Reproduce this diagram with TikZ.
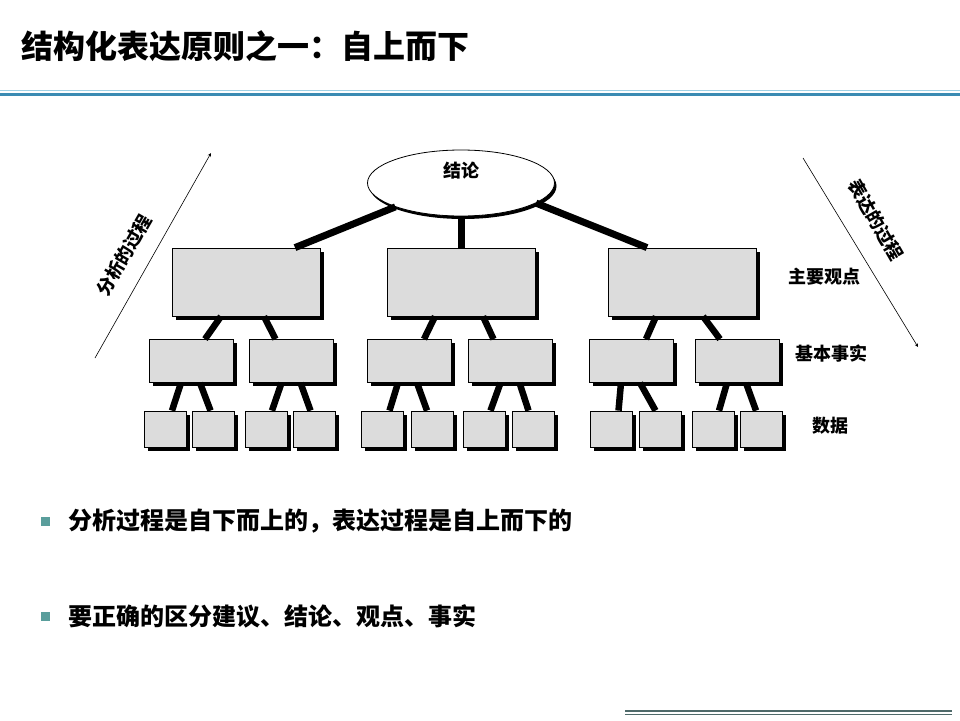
\documentclass[tikz,border=0pt]{standalone}
\usepackage{fontspec}
\setmainfont{Noto Sans CJK SC}
\usetikzlibrary{shapes.geometric,shadows}
\definecolor{boxgray}{HTML}{DCDCDC}
\definecolor{rulelight}{HTML}{9FD0E4}
\definecolor{ruleblue}{HTML}{3A8BB3}
\definecolor{bulletteal}{HTML}{5A9E9C}
\definecolor{footgray}{HTML}{4F6A6A}

\begin{document}
\begin{tikzpicture}[
    x=1pt,y=-1pt,
    box/.style={rectangle,draw=black,line width=0.8pt,fill=boxgray,inner sep=0pt,
      drop shadow={shadow xshift=3.5pt,shadow yshift=-3.5pt,fill=black,opacity=1}},
    mainbox/.style={box,minimum width=148pt,minimum height=68pt},
    factbox/.style={box,minimum width=84pt,minimum height=43pt},
    databox/.style={box,minimum width=42pt,minimum height=36pt},
    link/.style={line width=6.5pt},
    toplink/.style={line width=7pt},
    level/.style={font=\bfseries\fontsize{18}{21}\selectfont},
    bullet/.style={rectangle,fill=bulletteal,minimum size=9pt,inner sep=0pt},
    point/.style={anchor=west,inner sep=0pt,font=\bfseries\fontsize{24}{29}\selectfont},
    proc/.style={->,line width=0.6pt},
    >=stealth
  ]
  \useasboundingbox[fill=white] (0,0) rectangle (960,720);

  % Heading
  \node[anchor=west,inner sep=0pt,font=\bfseries\fontsize{32}{38}\selectfont] (title) at (21,46)
    {结构化表达原则之一：自上而下};
  \draw[rulelight,line width=1pt] (0,90.5) -- (960,90.5);
  \draw[ruleblue,line width=3.5pt] (0,94.5) -- (960,94.5);

  % Tree
  \node[ellipse,draw=black,line width=0.8pt,fill=white,inner sep=0pt,
    minimum width=187pt,minimum height=66pt,
    drop shadow={shadow xshift=2pt,shadow yshift=-3pt,fill=black,opacity=1},
    label={[level,yshift=12pt]center:结论}] (concl) at (461,183) {};

  \node[mainbox] (mainA) at (246,282) {};
  \node[mainbox] (mainB) at (461,282) {};
  \node[mainbox] (mainC) at (682,282) {};

  \node[factbox] (factA1) at (191,361) {};
  \node[factbox] (factA2) at (291.5,361) {};
  \node[factbox] (factB1) at (409,361) {};
  \node[factbox] (factB2) at (510.5,361) {};
  \node[factbox] (factC1) at (631,361) {};
  \node[factbox] (factC2) at (737,361) {};

  \node[databox] (dataA1) at (165,429) {};
  \node[databox] (dataA2) at (213.5,429) {};
  \node[databox] (dataA3) at (266,429) {};
  \node[databox] (dataA4) at (314.5,429) {};
  \node[databox] (dataB1) at (382.5,429) {};
  \node[databox] (dataB2) at (432,429) {};
  \node[databox] (dataB3) at (484.5,429) {};
  \node[databox] (dataB4) at (533.5,429) {};
  \node[databox] (dataC1) at (611.5,429) {};
  \node[databox] (dataC2) at (660.5,429) {};
  \node[databox] (dataC3) at (713,429) {};
  \node[databox] (dataC4) at (761,429) {};

  % Links
  \draw[toplink] (concl.200) -- ([xshift=49pt]mainA.north);
  \draw[toplink] (concl.south) -- (mainB.north);
  \draw[toplink] (concl.345) -- ([xshift=-35pt]mainC.north);

  \draw[link] ([xshift=-25pt]mainA.south) -- ([xshift=14pt]factA1.north);
  \draw[link] ([xshift=18pt]mainA.south) -- ([xshift=-16pt]factA2.north);
  \draw[link] ([xshift=-26pt]mainB.south) -- ([xshift=15pt]factB1.north);
  \draw[link] ([xshift=22pt]mainB.south) -- ([xshift=-17pt]factB2.north);
  \draw[link] ([xshift=-26pt]mainC.south) -- ([xshift=15pt]factC1.north);
  \draw[link] ([xshift=21pt]mainC.south) -- ([xshift=-17pt]factC2.north);

  \draw[link] ([xshift=-10pt]factA1.south) -- ([xshift=7pt]dataA1.north);
  \draw[link] ([xshift=9pt]factA1.south) -- ([xshift=-3pt]dataA2.north);
  \draw[link] ([xshift=-10pt]factA2.south) -- ([xshift=6pt]dataA3.north);
  \draw[link] ([xshift=9pt]factA2.south) -- ([xshift=-4pt]dataA4.north);
  \draw[link] ([xshift=-11pt]factB1.south) -- ([xshift=7pt]dataB1.north);
  \draw[link] ([xshift=8pt]factB1.south) -- ([xshift=-5pt]dataB2.north);
  \draw[link] ([xshift=-10pt]factB2.south) -- ([xshift=6pt]dataB3.north);
  \draw[link] ([xshift=9pt]factB2.south) -- ([xshift=-5pt]dataB4.north);
  \draw[link] ([xshift=-10pt]factC1.south) -- ([xshift=7pt]dataC1.north);
  \draw[link] ([xshift=9pt]factC1.south) -- ([xshift=-5pt]dataC2.north);
  \draw[link] ([xshift=-10pt]factC2.south) -- ([xshift=6pt]dataC3.north);
  \draw[link] ([xshift=9pt]factC2.south) -- ([xshift=-5pt]dataC4.north);

  % Levels
  \node[level] (lvlMain) at (824,277) {主要观点};
  \node[level] (lvlFact) at (831,354) {基本事实};
  \node[level] (lvlData) at (830,426) {数据};

  % Process arrows
  \coordinate (anaFrom) at (95,358);
  \coordinate (anaTo) at (211,153);
  \coordinate (expFrom) at (803,158);
  \coordinate (expTo) at (918,347);
  \draw[proc] (anaFrom) -- (anaTo);
  \draw[proc] (expFrom) -- (expTo);
  \node[level,inner sep=0pt,rotate=60] (anaText) at (124,255) {分析的过程};
  \node[level,inner sep=0pt,rotate=-60] (expText) at (876,220) {表达的过程};

  % Points
  \node[bullet] (bul1) at (45,521) {};
  \node[point] (pt1) at (68,521) {分析过程是自下而上的，表达过程是自上而下的};
  \node[bullet] (bul2) at (45,616) {};
  \node[point] (pt2) at (68,616) {要正确的区分建议、结论、观点、事实};

  % Footer
  \draw[footgray,line width=1.2pt] (625,711) -- (952,711);
  \draw[footgray,line width=1.2pt] (625,714.5) -- (952,714.5);
\end{tikzpicture}
\end{document}
